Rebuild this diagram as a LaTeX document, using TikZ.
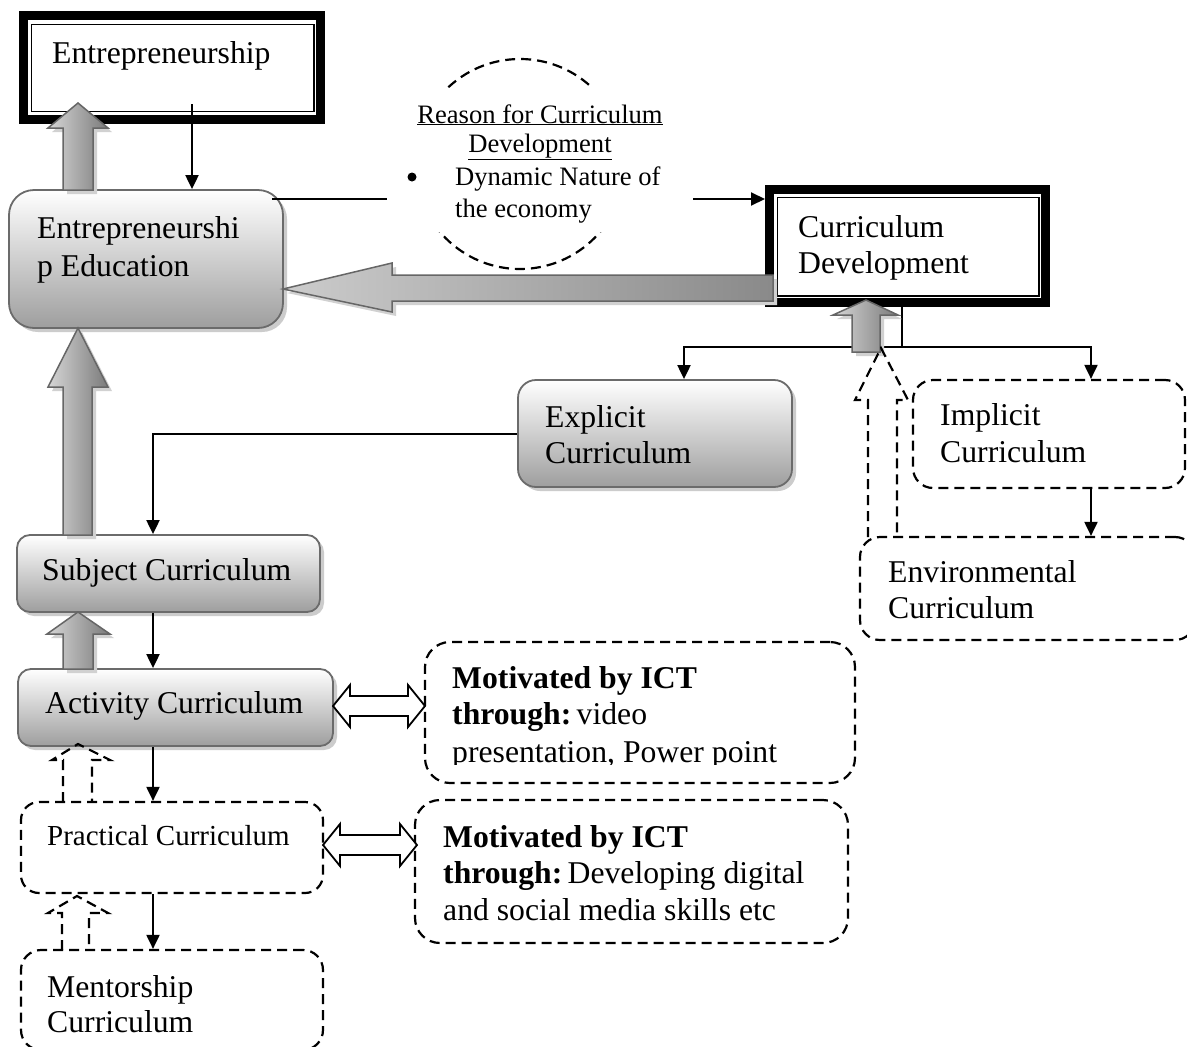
\documentclass[tikz,border=0pt]{standalone}
\usepackage{fontspec}
\setmainfont{Liberation Serif}
\usetikzlibrary{arrows.meta,shadows}

\begin{document}
\begin{tikzpicture}[x=1pt,y=-1pt,
  lbl/.style={anchor=base west, inner sep=0pt, font=\fontsize{31.7pt}{38pt}\selectfont},
  small/.style={inner sep=0pt, font=\fontsize{26.6pt}{30pt}\selectfont},
  gbox/.style={draw=black!58, line width=1.8pt, top color=white, bottom color=black!38,
    general shadow={fill=black!20, shadow xshift=4pt, shadow yshift=-4pt}, inner sep=0pt},
  dbox/.style={draw=black, line width=2.2pt, dash pattern=on 10pt off 6pt, inner sep=0pt},
  frame/.style={draw=black, line width=9pt, inner sep=0pt, fill=white},
  conn/.style={draw=black, line width=2pt, -{Triangle[length=14pt,width=13pt]}},
  wire/.style={draw=black, line width=1.8pt},
  gblock/.style={draw=black!60, line width=1.5pt, left color=black!16, right color=black!52,
    general shadow={fill=black!18, shadow xshift=4pt, shadow yshift=-4pt}},
  gblockh/.style={draw=black!60, line width=1.5pt, left color=black!20, right color=black!46,
    general shadow={fill=black!18, shadow xshift=4pt, shadow yshift=-4pt}},
  dblock/.style={draw=black, line width=2.2pt, dash pattern=on 10pt off 6pt},
  hollow/.style={draw=black, line width=1.8pt, fill=white},
]
\fill[white] (0,0) rectangle (1187,1047);
\useasboundingbox (0,0) rectangle (1187,1047);

% framed boxes
\node[frame, minimum width=297pt, minimum height=104pt] (ent) at (172,67.5) {};
\draw[line width=1.5pt] ([shift={(12.5,13.5)}]ent.north west) rectangle ([shift={(-11,-12.5)}]ent.south east);
\node[frame, minimum width=276pt, minimum height=113pt] (cd) at (907.5,246) {};
\draw[line width=1.5pt] ([shift={(12.5,12.5)}]cd.north west) rectangle ([shift={(-11,-11)}]cd.south east);

% shaded boxes
\node[gbox, rounded corners=25pt, minimum width=274pt, minimum height=138pt] (ee) at (146,259) {};
\node[gbox, rounded corners=18pt, minimum width=274pt, minimum height=107pt] (expl) at (655,433.5) {};
\node[gbox, rounded corners=13pt, minimum width=303pt, minimum height=77pt] (subj) at (168.5,573.5) {};
\node[gbox, rounded corners=13pt, minimum width=315pt, minimum height=77pt] (act) at (175.5,707.5) {};

% dashed boxes
\node[dbox, rounded corners=20pt, minimum width=272pt, minimum height=108pt] (impl) at (1049,434) {};
\node[dbox, rounded corners=20pt, minimum width=335pt, minimum height=103pt] (env) at (1027.5,588.5) {};
\node[dbox, rounded corners=18pt, minimum width=302pt, minimum height=91pt] (prac) at (172,847.5) {};
\node[dbox, rounded corners=20pt, minimum width=302pt, minimum height=100pt] (ment) at (172,1000) {};
\node[dbox, rounded corners=25pt, minimum width=430pt, minimum height=141pt] (mot1) at (640,712.5) {};
\node[dbox, rounded corners=25pt, minimum width=433pt, minimum height=143pt] (mot2) at (631.5,871.5) {};

% connectors
\coordinate (xt) at (192,104);
\draw[conn] (xt) -- (xt |- ee.north);
\coordinate (rs) at (272,199);
\draw[conn] (rs) -- (rs -| cd.west);

% reason bubble
\draw[dblock] (520,164) circle[radius=105];
\node[fill=white, minimum width=306pt, minimum height=144pt, inner sep=0pt] (reason) at (540,160) {};
\node[small, anchor=base] (r1) at (540,123) {\underline{Reason for Curriculum}};
\node[small, anchor=base] (r2) at (540,152) {\underline{Development}};
\node[circle, fill=black, inner sep=0pt, minimum size=9pt] (r3) at (412,177) {};
\node[small, anchor=base west] (r4) at (455,185) {Dynamic Nature of};
\node[small, anchor=base west] (r5) at (455,217) {the economy};

\coordinate (split) at (902,347);
\draw[wire] (split |- cd.south) -- (split);
\draw[conn] (split) -| ([xshift=29pt]expl.north);
\draw[conn] (split) -| ([xshift=42pt]impl.north);

\coordinate (xl) at (153,0);
\draw[conn] (expl.west) -| (subj.north -| xl);
\draw[conn] (subj.south -| xl) -- (act.north -| xl);
\draw[conn] (act.south -| xl) -- (prac.north -| xl);
\draw[conn] (prac.south -| xl) -- (ment.north -| xl);
\coordinate (xr) at (1091,0);
\draw[conn] (impl.south -| xr) -- (env.north -| xr);

% hollow double arrows
\draw[hollow] (333,706) -- (350,685) -- (350,696) -- (408,696) -- (408,685) -- (425,706)
  -- (408,727) -- (408,716) -- (350,716) -- (350,727) -- cycle;
\draw[hollow] (323,845) -- (340,824) -- (340,835) -- (400,835) -- (400,824) -- (417,845)
  -- (400,866) -- (400,855) -- (340,855) -- (340,866) -- cycle;

% grey block arrows
\draw[gblock] (63,190) -- (63,128) -- (48,128) -- (78,103) -- (108,128) -- (93,128) -- (93,190) -- cycle;
\draw[gblock] (63,535) -- (63,387) -- (48,387) -- (78,328) -- (108,387) -- (92,387) -- (92,535) -- cycle;
\draw[gblock] (63,669) -- (63,634) -- (47,634) -- (78,612) -- (110,634) -- (93,634) -- (93,669) -- cycle;
\draw[gblock] (852,352) -- (852,315) -- (833,315) -- (866,300) -- (898,315) -- (880,315) -- (880,352) -- cycle;
\draw[gblockh] (773,275) -- (392,275) -- (392,263) -- (283,289) -- (392,312) -- (392,301) -- (773,301) -- cycle;

% dashed block arrows
\draw[dblock] (868,537) -- (868,400) -- (855,400) -- (881,348) -- (908,400) -- (897,400) -- (897,537);
\draw[dblock] (63,802) -- (63,760) -- (52,760) -- (78,744) -- (110,760) -- (92,760) -- (92,802);
\draw[dblock] (62,950) -- (62,913) -- (48,913) -- (77,896) -- (108,913) -- (89,913) -- (89,950);

% labels
\node[lbl] (t-ent) at (52,63) {Entrepreneurship};
\node[lbl] (t-ee1) at (37,238) {Entrepreneurshi};
\node[lbl] (t-ee2) at (37,276) {p Education};
\node[lbl] (t-cd1) at (798,237) {Curriculum};
\node[lbl] (t-cd2) at (798,273) {Development};
\node[lbl] (t-ex1) at (545,427) {Explicit};
\node[lbl] (t-ex2) at (545,463) {Curriculum};
\node[lbl] (t-im1) at (940,425) {Implicit};
\node[lbl] (t-im2) at (940,462) {Curriculum};
\node[lbl] (t-en1) at (888,582) {Environmental};
\node[lbl] (t-en2) at (888,618) {Curriculum};
\node[lbl] (t-sub) at (42,580) {Subject Curriculum};
\node[lbl] (t-act) at (45,713) {Activity Curriculum};
\node[lbl, font=\fontsize{29pt}{35pt}\selectfont] (t-pra) at (47,845) {Practical Curriculum};
\node[lbl] (t-me1) at (47,997) {Mentorship};
\node[lbl] (t-me2) at (47,1032) {Curriculum};

\node[lbl] (m11) at (452,688) {\textbf{Motivated by ICT}};
\node[lbl] (m12) at (452,724) {\textbf{through:}\,video};
\begin{scope}
  \clip (430,735) rectangle (850,764);
  \node[lbl] (m13) at (452,762) {presentation, Power point};
\end{scope}
\node[lbl] (m21) at (443,847) {\textbf{Motivated by ICT}};
\node[lbl] (m22) at (443,883) {\textbf{through:}\,Developing digital};
\node[lbl] (m23) at (443,920) {and social media skills etc};
\end{tikzpicture}
\end{document}
